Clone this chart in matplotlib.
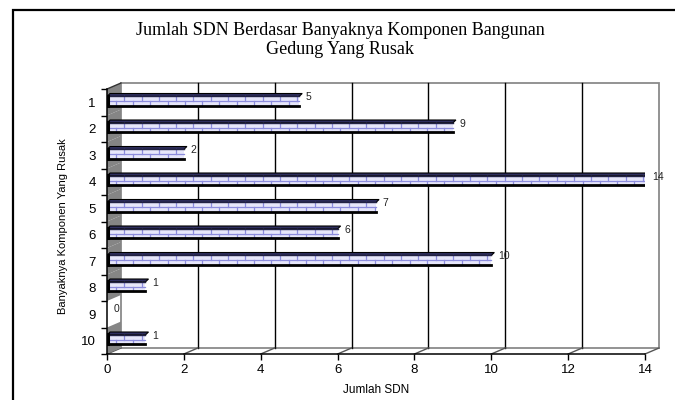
import matplotlib

matplotlib.use("Agg")

import matplotlib.pyplot as plt
from matplotlib.patches import Polygon, Rectangle

plt.rcParams["font.family"] = ["Liberation Sans", "DejaVu Sans"]

categories = [1, 2, 3, 4, 5, 6, 7, 8, 9, 10]
jumlah_sdn = [5, 9, 2, 14, 7, 6, 10, 1, 0, 1]
x_ticks = [0, 2, 4, 6, 8, 10, 12, 14]

title = "Jumlah SDN Berdasar Banyaknya Komponen Bangunan\nGedung Yang Rusak"
x_label = "Jumlah SDN"
y_label = "Banyaknya Komponen Yang Rusak"

# depth of the 3d box, in data units
DX, DY = 0.364, 0.226
# bar geometry
BAR_TOP, BAR_BOT = -0.22, 0.13
TOP_DX, TOP_DY = 0.08, 0.11
BRICK = 0.45
MORTAR = "#8c8cdc"

fig = plt.figure(figsize=(6.75, 4), dpi=100)
W, H = 675, 400
ax = fig.add_axes([107 / W, 1 - 354 / H, (645 - 107) / W, (354 - 89) / H])
ax.set_xlim(0, 14)
ax.set_ylim(10.5, 0.5)
ax.set_facecolor("none")

# outer frame
fig.patches.append(Rectangle((13 / W, -0.1), 1.2, 1.1 - 10 / H,
                             transform=fig.transFigure, fill=False,
                             edgecolor="black", linewidth=1.6))

# back wall
ax.add_patch(Polygon([(DX, 0.5 - DY), (14 + DX, 0.5 - DY), (14 + DX, 10.5 - DY), (DX, 10.5 - DY)],
                     closed=True, facecolor="white", edgecolor="#8a8a8a", linewidth=1.3,
                     clip_on=False, zorder=1))
for v in x_ticks[1:-1]:
    ax.plot([v + DX, v + DX], [0.5 - DY, 10.5 - DY], color="black", lw=1.0,
            clip_on=False, zorder=2)
for v in x_ticks:
    ax.plot([v, v + DX], [10.5, 10.5 - DY], color="#555555", lw=1.0,
            clip_on=False, zorder=2)

# grey side wall behind each non-empty category
for c, v in zip(categories, jumlah_sdn):
    if v > 0:
        ax.add_patch(Polygon([(0, c - 0.5), (DX, c - 0.5 - DY), (DX, c + 0.5 - DY), (0, c + 0.5)],
                             closed=True, facecolor="#858585", edgecolor="none",
                             clip_on=False, zorder=3))
ax.plot([0, DX], [0.5, 0.5 - DY], color="#333333", lw=1.0, clip_on=False, zorder=3)

# bars
for c, v in zip(categories, jumlah_sdn):
    y0, y1 = c + BAR_TOP, c + BAR_BOT
    if v > 0:
        ax.add_patch(Polygon([(0, y0), (TOP_DX, y0 - TOP_DY), (v + TOP_DX, y0 - TOP_DY), (v, y0)],
                             closed=True, facecolor="#2e2e5e", edgecolor="black",
                             linewidth=0.8, zorder=4))
        ax.add_patch(Rectangle((0, y0), v, y1 - y0, facecolor="#e6e6fa",
                               edgecolor="none", zorder=4))
        ym = (y0 + y1) / 2
        ax.plot([0, v], [ym, ym], color=MORTAR, lw=0.9, zorder=5)
        k = 1
        while k * BRICK / 2 < v:
            x = k * BRICK / 2
            if k % 2:
                ax.plot([x, x], [ym, y1], color=MORTAR, lw=0.9, zorder=5)
            else:
                ax.plot([x, x], [y0, ym], color=MORTAR, lw=0.9, zorder=5)
            k += 1
        ax.plot([0, v], [y0, y0], color="#222244", lw=1.0, zorder=6)
        ax.plot([0, v], [y1, y1], color="black", lw=2.0, zorder=6)
        ax.plot([0.02, 0.02], [y0 - 0.02, y1], color="black", lw=2.2, zorder=6)
    ax.text(v + 0.18, c - 0.18, str(v), ha="left", va="center", fontsize=7.5,
            color="#222222", zorder=7)

# axes
for side in ("top", "right"):
    ax.spines[side].set_visible(False)
for side in ("left", "bottom"):
    ax.spines[side].set_color("black")
    ax.spines[side].set_linewidth(1.1)
    ax.spines[side].set_zorder(8)
ax.set_xticks(x_ticks)
ax.set_yticks(categories)
ax.set_yticks([c + 0.5 for c in [0] + categories], minor=True)
ax.tick_params(axis="x", direction="out", length=4, width=1, pad=3, labelsize=9.5)
ax.tick_params(axis="y", which="major", length=0, pad=8, labelsize=9.5)
ax.tick_params(axis="y", which="minor", direction="out", length=4, width=1)

fig.text(376 / W, 1 - 390 / H, x_label, ha="center", va="center", fontsize=8.5)
fig.text(63 / W, 1 - 226 / H, y_label, ha="center", va="center", rotation=90,
         fontsize=8)
fig.text(340 / W, 1 - 40 / H, title, ha="center", va="center", fontsize=13,
         family=["Liberation Serif", "DejaVu Serif"], linespacing=1.1)

fig.savefig("out.png", dpi=100)
